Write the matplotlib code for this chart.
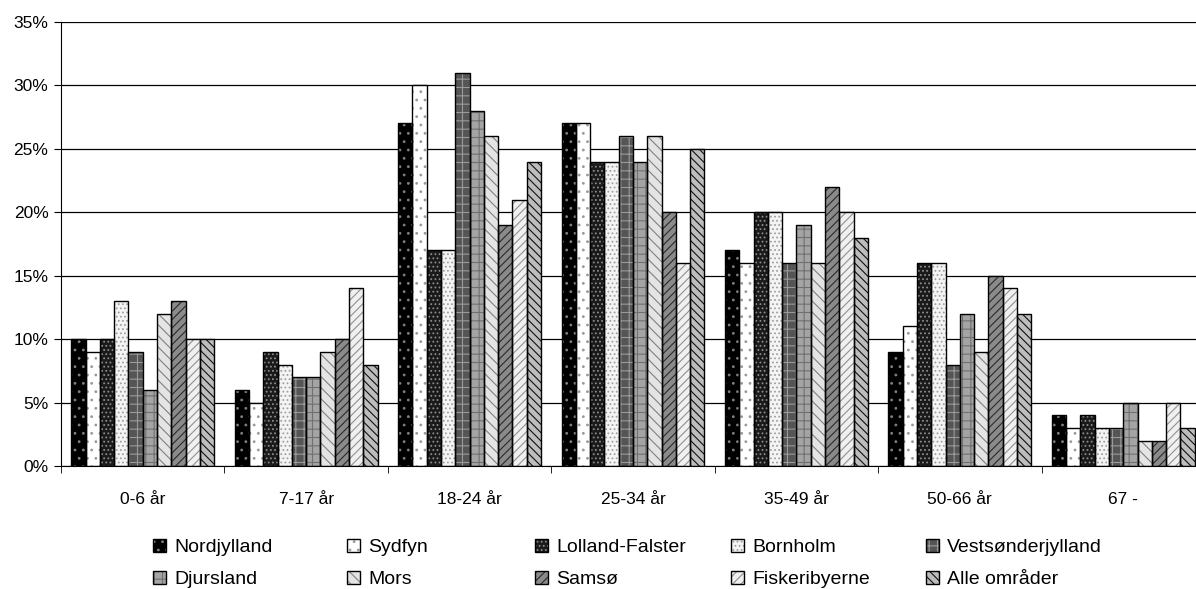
import numpy as np
from matplotlib import pyplot as plt
from matplotlib.patches import Patch
from matplotlib.legend_handler import HandlerTuple

plt.rcParams['font.family'] = ['Liberation Sans', 'DejaVu Sans']
plt.rcParams['hatch.linewidth'] = 0.8

# Data (percent)
age_groups = ['0-6 år', '7-17 år', '18-24 år', '25-34 år', '35-49 år', '50-66 år', '67 -']
areas = ['Nordjylland', 'Sydfyn', 'Lolland-Falster', 'Bornholm', 'Vestsønderjylland',
         'Djursland', 'Mors', 'Samsø', 'Fiskeribyerne', 'Alle områder']

nordjylland = [10, 6, 27, 27, 17, 9, 4]
sydfyn = [9, 5, 30, 27, 16, 11, 3]
lolland_falster = [10, 9, 17, 24, 20, 16, 4]
bornholm = [13, 8, 17, 24, 20, 16, 3]
vestsonderjylland = [9, 7, 31, 26, 16, 8, 3]
djursland = [6, 7, 28, 24, 19, 12, 5]
mors = [12, 9, 26, 26, 16, 9, 2]
samso = [13, 10, 19, 20, 22, 15, 2]
fiskeribyerne = [10, 14, 21, 16, 20, 14, 5]
alle_omrader = [10, 8, 24, 25, 18, 12, 3]

series = [nordjylland, sydfyn, lolland_falster, bornholm, vestsonderjylland,
          djursland, mors, samso, fiskeribyerne, alle_omrader]

# face colour, hatch, hatch colour for each series (grey pattern fills)
styles = [
    ('#000000', '..', '#808080'),
    ('#ffffff', '..', '#9a9a9a'),
    ('#1a1a1a', '....', '#8c8c8c'),
    ('#f4f4f4', '....', '#a0a0a0'),
    ('#555555', '++', '#9a9a9a'),
    ('#a4a4a4', '++', '#707070'),
    ('#e4e4e4', '\\\\\\', '#808080'),
    ('#8a8a8a', '////', '#2a2a2a'),
    ('#f0f0f0', '////', '#909090'),
    ('#bdbdbd', '\\\\\\\\', '#111111'),
]

fig = plt.figure(figsize=(11.96, 5.89), dpi=100)
ax = fig.add_axes([61 / 1196, 123 / 589, 1144 / 1196, 444 / 589])

n = len(series)
bw = 0.875 / n
x = np.arange(len(age_groups)) + 0.5

handles = []
for i, (vals, (face, hatch, hcol)) in enumerate(zip(series, styles)):
    pos = x - 0.4375 + bw * (i + 0.5)
    ax.bar(pos, vals, bw, color=face, edgecolor=hcol, hatch=hatch, linewidth=0, zorder=2)
    ax.bar(pos, vals, bw, fill=False, edgecolor='black', linewidth=1.0, zorder=3)
    handles.append((Patch(facecolor=face, edgecolor=hcol, hatch=hatch, linewidth=0),
                    Patch(fill=False, edgecolor='black', linewidth=1.0)))

ax.set_xlim(0, 7)
ax.set_ylim(0, 35)
ax.set_yticks(np.arange(0, 36, 5))
ax.set_yticklabels([f'{v}%' for v in range(0, 36, 5)])
ax.yaxis.grid(True, color='black', linewidth=0.9)
ax.set_axisbelow(True)

ax.set_xticks(x)
ax.set_xticklabels(age_groups)
ax.set_xticks(np.arange(0, 8), minor=True)
ax.tick_params(axis='x', which='major', length=0, pad=19, labelsize=12.5)
ax.tick_params(axis='x', which='minor', length=5, direction='out')
ax.tick_params(axis='y', length=5, direction='out', labelsize=12.5, pad=4)

for s in ['top', 'right']:
    ax.spines[s].set_visible(False)

# legend: five equal-width columns, two rows
col_x = [153, 347, 535, 731, 926]
for c in range(5):
    hs = [handles[c], handles[c + 5]]
    ls = [areas[c], areas[c + 5]]
    fig.legend(hs, ls, loc='upper left', bbox_to_anchor=(col_x[c] / 1196, 1 - 539 / 589),
               frameon=False, fontsize=14, handlelength=0.65, handleheight=0.65,
               handletextpad=0.45, labelspacing=0.75, borderpad=0, borderaxespad=0,
               handler_map={tuple: HandlerTuple(ndivide=1, pad=0)})

fig.savefig('out.png', dpi=100)
